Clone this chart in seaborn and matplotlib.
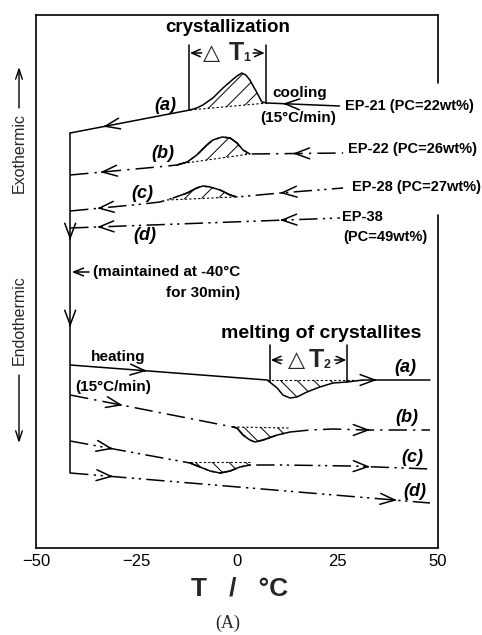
import numpy as np
import pandas as pd
import matplotlib
matplotlib.use("Agg")
import matplotlib.pyplot as plt
import seaborn as sns

# ---------------- data (T in degC, signal in arbitrary units, up = exothermic) -------------
cool_a_T = [-41.5, -11.7, -10.0, -8.5, -6.0, -3.5, -1.2, 0.0, 1.2, 2.2, 3.2, 5.0, 6.2, 7.5, 25.5]
cool_a_y = [415, 438, 440, 443, 450, 460, 468, 472, 475, 473, 468, 455, 446, 445, 442]
cool_b_T = [-41.5, -19.9, -14.9, -12.4, -10.0, -7.5, -6.0, -3.7, -1.7, 0.0, 1.5, 3.2, 26.4]
cool_b_y = [373, 381, 383, 386, 393, 403, 408, 411, 410, 405, 398, 394, 395]
cool_c_T = [-41.5, -23.4, -19.2, -15.9, -12.4, -10.0, -8.5, -6.7, -4.2, -1.7, 0.0, 10.7, 26.4]
cool_c_y = [337, 344, 346, 350, 355, 360, 362, 361, 358, 353, 351, 355, 360]
cool_d_T = [-41.5, 25.6]
cool_d_y = [320, 330]

heat_a_T = [-41.5, 7.5, 10.0, 11.4, 13.2, 14.9, 17.4, 20.6, 23.9, 27.4, 31.3, 48.0]
heat_a_y = [183, 168, 160, 153, 150, 151, 156, 161, 165, 166, 168, 168]
heat_b_T = [-41.5, -1.0, 0.0, 1.5, 3.2, 4.5, 6.5, 10.0, 13.2, 18.2, 23.9, 32.3, 48.0]
heat_b_y = [153, 121, 120, 113, 108, 106, 108, 113, 116, 118, 119, 118, 118]
heat_c_T = [-41.5, -11.7, -9.2, -6.7, -4.2, -1.7, 0.7, 3.2, 11.4, 28.1, 48.0]
heat_c_y = [107, 85, 81, 77, 75, 77, 81, 83, 83, 82, 79]
heat_d_T = [-41.5, 48.0]
heat_d_y = [75, 45]

# peak baselines (start T, start y, end T, end y)
cool_base = {"a": (-11.7, 438, 7.5, 445), "b": (-14.5, 384, 3.2, 394), "c": (-17.4, 348, -0.5, 351)}
heat_base = {"a": (7.5, 168, 31.3, 168), "b": (-1.0, 121, 13.2, 120), "c": (-11.7, 86, 3.2, 86)}

iso_T = -41.5                      # isothermal hold line
iso_y = [75, 415]

samples = ["EP-21 (PC=22wt%)", "EP-22 (PC=26wt%)", "EP-28 (PC=27wt%)", "EP-38"]
curve_tags = ["(a)", "(b)", "(c)", "(d)"]
x_ticks = [-50, -25, 0, 25, 50]

# ---------------- style ----------------
sns.set_theme(style="white")
plt.rcParams["font.family"] = ["Liberation Sans", "DejaVu Sans"]
plt.rcParams["hatch.linewidth"] = 0.7
plt.rcParams["hatch.color"] = "black"

fig = plt.figure(figsize=(4.82, 6.35), dpi=100)
ax = fig.add_axes([36 / 482, 1 - 548 / 635, 402 / 482, 533 / 635])
ax.set_xlim(-50, 50)
ax.set_ylim(0, 533)

K = "black"
solid = "-"
dashdot = (0, (12, 4, 1.5, 4))
dashdotdot = (0, (12, 3.5, 1.5, 3, 1.5, 3.5))
LW = 1.1


def line(T, y, ls):
    df = pd.DataFrame({"T": T, "y": y})
    sns.lineplot(data=df, x="T", y="y", ax=ax, color=K, lw=LW, linestyle=ls,
                 sort=False, estimator=None)


curves = [
    (cool_a_T, cool_a_y, solid, cool_base.get("a")), (cool_b_T, cool_b_y, dashdot, cool_base.get("b")),
    (cool_c_T, cool_c_y, dashdotdot, cool_base.get("c")), (cool_d_T, cool_d_y, dashdotdot, None),
    (heat_a_T, heat_a_y, solid, heat_base.get("a")), (heat_b_T, heat_b_y, dashdot, heat_base.get("b")),
    (heat_c_T, heat_c_y, dashdotdot, heat_base.get("c")), (heat_d_T, heat_d_y, dashdotdot, None),
]
for T, y, ls, base in curves:
    line(T, y, ls)
    if base is not None and ls != solid:
        # peak portion is drawn as a continuous trace
        Ta = np.asarray(T, float)
        m = (Ta >= base[0] - 1.5) & (Ta <= base[2] + 1.5)
        line(Ta[m], np.asarray(y, float)[m], solid)

line([iso_T, iso_T], iso_y, solid)


def hatch_peak(T, y, base, hatch):
    t0, y0, t1, y1 = base
    T = np.asarray(T, float)
    y = np.asarray(y, float)
    m = (T >= t0) & (T <= t1)
    ts = np.concatenate([[t0], T[m], [t1]])
    ys = np.interp(ts, T, y)
    bs = np.interp(ts, [t0, t1], [y0, y1])
    ax.fill_between(ts, ys, bs, facecolor="none", edgecolor=K, hatch=hatch, linewidth=0)
    ax.plot([t0, t1], [y0, y1], color=K, lw=0.8, linestyle=(0, (2, 2)))


for k, (T, y) in {"a": (cool_a_T, cool_a_y), "b": (cool_b_T, cool_b_y), "c": (cool_c_T, cool_c_y)}.items():
    hatch_peak(T, y, cool_base[k], "//")
for k, (T, y) in {"a": (heat_a_T, heat_a_y), "b": (heat_b_T, heat_b_y), "c": (heat_c_T, heat_c_y)}.items():
    hatch_peak(T, y, heat_base[k], "\\\\")

AP = dict(arrowstyle="->,head_length=0.75,head_width=0.28", color=K, lw=LW,
          mutation_scale=14, shrinkA=0, shrinkB=0)


def arrow_on(T, y, at, direction):
    ya = np.interp(at, T, y)
    tail = at - direction * 0.6
    yt = np.interp(tail, T, y)
    ax.annotate("", xy=(at, ya), xytext=(tail, yt), arrowprops=AP)


# cooling arrows (pointing left)
for T, y, pts in [(cool_a_T, cool_a_y, (-33.3, 11.4)), (cool_b_T, cool_b_y, (-34.0, 13.9)),
                  (cool_c_T, cool_c_y, (-34.8, 10.7)), (cool_d_T, cool_d_y, (-34.8, 10.7))]:
    for p in pts:
        arrow_on(T, y, p, -1)
# heating arrows (pointing right)
for T, y, pts in [(heat_a_T, heat_a_y, (-22.4, 34.8)), (heat_b_T, heat_b_y, (-28.4, 33.1)),
                  (heat_c_T, heat_c_y, (-30.8, 33.1)), (heat_d_T, heat_d_y, (-30.8, 39.8))]:
    for p in pts:
        arrow_on(T, y, p, 1)
# downward arrows on isothermal line
for yy in (308, 221):
    ax.annotate("", xy=(iso_T, yy), xytext=(iso_T, yy + 2), arrowprops=AP)
ax.annotate("", xy=(iso_T + 0.4, 276), xytext=(-36.8, 276),
            arrowprops=dict(arrowstyle="->,head_length=0.5,head_width=0.2", color=K, lw=LW,
                            mutation_scale=14, shrinkA=0, shrinkB=0))

# --- delta T brackets
for t, ylo in [(-11.9, 438), (7.1, 445)]:
    ax.plot([t, t], [ylo, 503], color=K, lw=LW)
for t, ylo in [(8.2, 166), (27.4, 166)]:
    ax.plot([t, t], [ylo, 203], color=K, lw=LW)
APs = dict(arrowstyle="->,head_length=0.5,head_width=0.22", color=K, lw=LW,
           mutation_scale=12, shrinkA=0, shrinkB=0)
ax.annotate("", xy=(-11.7, 495), xytext=(-8.8, 495), arrowprops=APs)
ax.annotate("", xy=(6.9, 495), xytext=(4.0, 495), arrowprops=APs)
ax.annotate("", xy=(8.4, 188), xytext=(11.2, 188), arrowprops=APs)
ax.annotate("", xy=(27.2, 188), xytext=(24.3, 188), arrowprops=APs)
ax.text(-6.3, 495, "\u25b3", fontsize=16, ha="center", va="center", family=["DejaVu Sans"])
ax.text(-0.2, 495, "T", fontsize=18, fontweight="bold", ha="center", va="center")
ax.text(2.5, 490, "1", fontsize=9, fontweight="bold", ha="center", va="center")
ax.text(14.9, 188, "\u25b3", fontsize=16, ha="center", va="center", family=["DejaVu Sans"])
ax.text(19.8, 188, "T", fontsize=18, fontweight="bold", ha="center", va="center")
ax.text(22.5, 183, "2", fontsize=9, fontweight="bold", ha="center", va="center")

# --- texts
bold = dict(fontweight="bold", color=K)
ax.text(-2.2, 520, "crystallization", fontsize=13.5, ha="center", va="center", **bold)
ax.text(20.9, 215, "melting of crystallites", fontsize=14, ha="center", va="center", **bold)
ax.text(15.7, 455, "cooling", fontsize=11, ha="center", va="center", **bold)
ax.text(15.2, 430, "(15\u00b0C/min)", fontsize=11, ha="center", va="center", **bold)
ax.text(-29.6, 191, "heating", fontsize=11, ha="center", va="center", **bold)
ax.text(-40.3, 161, "(15\u00b0C/min)", fontsize=11, ha="left", va="center", **bold)
ax.text(-35.8, 276, "(maintained at -40\u00b0C", fontsize=11, ha="left", va="center", **bold)
ax.text(0.7, 255, "for 30min)", fontsize=11, ha="right", va="center", **bold)

lab_pos = [(26.9, 442), (27.6, 399), (28.6, 361), (26.1, 331)]
for s, (t, yy) in zip(samples, lab_pos):
    ax.text(t, yy, s, fontsize=10.5, ha="left", va="center", clip_on=False,
            bbox=dict(facecolor="white", edgecolor="none", pad=0.5), **bold)
ax.text(26.4, 311, "(PC=49wt%)", fontsize=10.5, ha="left", va="center", **bold)

cool_tag_pos = [(-17.9, 443), (-18.4, 395), (-23.6, 355), (-22.9, 313)]
heat_tag_pos = [(41.8, 181), (42.3, 131), (43.5, 90), (44.3, 56)]
for tag, p in zip(curve_tags, cool_tag_pos):
    ax.text(p[0], p[1], tag, fontsize=13, fontstyle="italic", ha="center", va="center", **bold)
for tag, p in zip(curve_tags, heat_tag_pos):
    ax.text(p[0], p[1], tag, fontsize=13, fontstyle="italic", ha="center", va="center", **bold)

# --- axes frame
ax.set_xticks(x_ticks)
ax.set_xticklabels([f"{v}".replace("-", "\u2212") for v in x_ticks])
ax.set_yticks([])
ax.tick_params(axis="x", direction="in", length=9, width=1.2, labelsize=12, pad=4, colors=K)
for s in ["left", "top", "bottom"]:
    ax.spines[s].set_color(K)
    ax.spines[s].set_linewidth(1.2)
ax.spines["right"].set_visible(False)
ax.axvline(50, ymin=465 / 533, ymax=1, color=K, lw=1.2, clip_on=False)
ax.axvline(50, ymin=0, ymax=333 / 533, color=K, lw=1.2, clip_on=False)
ax.set_xlabel("")
ax.set_ylabel("")

fig.text(240 / 482, 1 - 588 / 635, "T   /   \u00b0C", fontsize=19, fontweight="bold",
         ha="center", va="center")
fig.text(228 / 482, 1 - 623 / 635, "(A)", fontsize=13, family=["Liberation Serif"],
         ha="center", va="center")

fig.text(19 / 482, 1 - 153 / 635, "Exothermic", rotation=90, fontsize=11.5,
         ha="center", va="center")
fig.text(19 / 482, 1 - 320 / 635, "Endothermic", rotation=90, fontsize=11.5,
         ha="center", va="center")
APf = dict(arrowstyle="->,head_length=0.6,head_width=0.2", color=K, lw=1.0,
           mutation_scale=12, shrinkA=0, shrinkB=0)
ax.annotate("", xy=(19 / 482, 1 - 67 / 635), xytext=(19 / 482, 1 - 108 / 635),
            xycoords="figure fraction", textcoords="figure fraction", arrowprops=APf)
ax.annotate("", xy=(19 / 482, 1 - 443 / 635), xytext=(19 / 482, 1 - 375 / 635),
            xycoords="figure fraction", textcoords="figure fraction", arrowprops=APf)

fig.savefig("out.png", dpi=100)
